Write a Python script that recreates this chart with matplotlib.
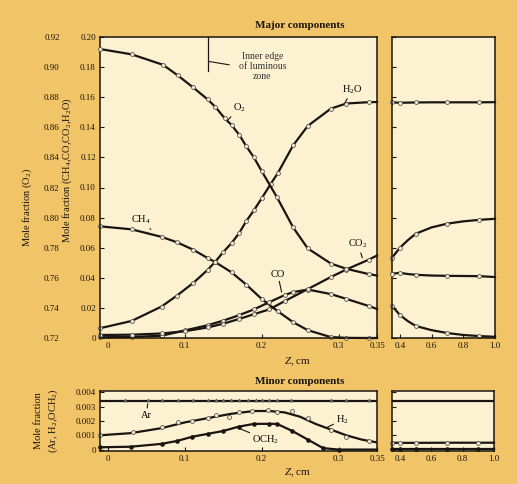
import matplotlib.pyplot as plt

plt.rcParams['font.family'] = ['Liberation Serif', 'DejaVu Serif']
plt.rcParams['mathtext.fontset'] = 'custom'
plt.rcParams['mathtext.rm'] = 'Liberation Serif'
plt.rcParams['mathtext.it'] = 'Liberation Serif:italic'
plt.rcParams['mathtext.bf'] = 'Liberation Serif:bold'

GOLD = '#f1c467'
CREAM = '#fcf2d2'
INK = '#1a1510'

# ---- major components, 0 < z < 0.35 cm
z_o2 = [-0.01, 0.031, 0.072, 0.091, 0.111, 0.130, 0.140, 0.152, 0.161, 0.171, 0.180,
        0.190, 0.200, 0.220, 0.241, 0.260, 0.290, 0.310, 0.339, 0.35]
o2 = [0.912, 0.9085, 0.9015, 0.8945, 0.8865, 0.8785, 0.8735, 0.866, 0.8615, 0.855, 0.8475,
      0.840, 0.831, 0.8135, 0.7935, 0.7795, 0.7695, 0.766, 0.7625, 0.7615]

z_h2o = [-0.01, 0.031, 0.070, 0.090, 0.111, 0.130, 0.140, 0.150, 0.161, 0.171, 0.180,
         0.190, 0.200, 0.212, 0.221, 0.241, 0.260, 0.290, 0.310, 0.339, 0.35]
h2o = [0.0065, 0.0113, 0.0209, 0.0282, 0.0365, 0.0453, 0.0508, 0.057, 0.0631, 0.0698, 0.0776,
       0.0848, 0.0927, 0.1025, 0.1095, 0.128, 0.1409, 0.1524, 0.1558, 0.1567, 0.1568]

z_ch4 = [-0.01, 0.031, 0.070, 0.090, 0.111, 0.130, 0.140, 0.161, 0.180, 0.200, 0.221,
         0.241, 0.260, 0.290, 0.310, 0.339, 0.35]
ch4 = [0.0742, 0.0722, 0.0672, 0.0636, 0.0587, 0.0531, 0.0504, 0.0436, 0.0355, 0.026, 0.0178,
       0.0105, 0.0052, 0.0006, 0.0001, 0.0, 0.0]

z_co = [-0.01, 0.031, 0.070, 0.10, 0.13, 0.15, 0.17, 0.19, 0.21, 0.23, 0.241, 0.26,
        0.29, 0.31, 0.339, 0.35]
co = [0.0005, 0.0007, 0.0015, 0.005, 0.0085, 0.0115, 0.015, 0.019, 0.0238, 0.0285, 0.0305,
      0.0322, 0.0292, 0.026, 0.0213, 0.0193]

z_co2 = [-0.01, 0.031, 0.070, 0.10, 0.13, 0.15, 0.17, 0.19, 0.21, 0.23, 0.26, 0.29,
         0.31, 0.339, 0.35]
co2 = [0.002, 0.0022, 0.003, 0.0045, 0.007, 0.0095, 0.0125, 0.0158, 0.019, 0.0245, 0.0325,
       0.0405, 0.0455, 0.052, 0.0548]

# ---- major components, 0.35 < z < 1.0 cm
z_r = [0.35, 0.4, 0.45, 0.5, 0.6, 0.7, 0.8, 0.9, 1.0]
mark_r = [0, 1, 3, 5, 7]
h2o_r = [0.1566, 0.1563, 0.1564, 0.1565, 0.1566, 0.1566, 0.1566, 0.1566, 0.1567]
co2_r = [0.0533, 0.060, 0.065, 0.0693, 0.0735, 0.076, 0.0775, 0.0785, 0.0792]
o2_r = [0.7627, 0.7633, 0.7625, 0.762, 0.7615, 0.7613, 0.7612, 0.7611, 0.7605]
co_r = [0.0213, 0.0153, 0.0112, 0.008, 0.0052, 0.0033, 0.002, 0.0013, 0.0008]

# ---- minor components
z_ar = [-0.01, 0.35]
ar = [0.0034, 0.0034]
z_ar_pts = [0.023, 0.052, 0.071, 0.091, 0.111, 0.13, 0.141, 0.15, 0.16, 0.171, 0.182,
            0.193, 0.2, 0.209, 0.22, 0.238, 0.29, 0.31, 0.339]
ar_pts = [0.0035] * len(z_ar_pts)

z_h2 = [-0.01, 0.03, 0.07, 0.1, 0.13, 0.16, 0.19, 0.21, 0.23, 0.25, 0.27, 0.29, 0.31, 0.33, 0.35]
h2 = [0.0010, 0.00115, 0.0015, 0.0019, 0.0022, 0.0025, 0.0027, 0.0027, 0.0026, 0.0023,
      0.0018, 0.0014, 0.0010, 0.0007, 0.0005]
z_h2_pts = [-0.01, 0.033, 0.071, 0.091, 0.11, 0.13, 0.141, 0.158, 0.171, 0.188, 0.208,
            0.22, 0.24, 0.26, 0.29, 0.31, 0.339]
h2_pts = [0.0010, 0.0012, 0.0016, 0.0019, 0.0020, 0.0022, 0.0024, 0.0023, 0.0026, 0.0027,
          0.0028, 0.0026, 0.0027, 0.0022, 0.0014, 0.0009, 0.0006]

z_och2 = [-0.01, 0.03, 0.07, 0.09, 0.11, 0.13, 0.15, 0.17, 0.19, 0.21, 0.22, 0.24, 0.26,
          0.28, 0.30, 0.35]
och2 = [0.00016, 0.0002, 0.0004, 0.0006, 0.0009, 0.0011, 0.0013, 0.0016, 0.0018, 0.0018,
        0.0018, 0.0013, 0.0007, 0.0001, 0.0, 0.0]

z_mr = [0.35, 0.4, 0.5, 0.7, 0.9, 1.0]
ar_r = [0.0034] * 6
h2_r = [0.00048, 0.00047, 0.00047, 0.00048, 0.00048, 0.00048]
och2_r = [0.00002] * 6

ticks_left = [0, 0.1, 0.2, 0.3, 0.35]
tick_labels_left = ['0', '0.1', '0.2', '0.3', '0.35']
ticks_right = [0.4, 0.6, 0.8, 1.0]
tick_labels_right = ['0.4', '0.6', '0.8', '1.0']
major_y = [0, 0.02, 0.04, 0.06, 0.08, 0.10, 0.12, 0.14, 0.16, 0.18, 0.20]
major_y_labels = ['0', '0.02', '0.04', '0.06', '0.08', '0.10', '0.12', '0.14', '0.16', '0.18', '0.20']
o2_y = [0.72, 0.74, 0.76, 0.78, 0.80, 0.82, 0.84, 0.86, 0.88, 0.90, 0.92]
minor_y = [0, 0.001, 0.002, 0.003, 0.004]
minor_y_labels = ['0', '0.001', '0.002', '0.003', '0.004']

W, H = 517, 484
fig = plt.figure(figsize=(W / 100, H / 100), dpi=100, facecolor=GOLD)


def box(x0, y0, x1, y1):
    return fig.add_axes([x0 / W, 1 - y1 / H, (x1 - x0) / W, (y1 - y0) / H])


def style(ax):
    ax.set_facecolor(CREAM)
    for s in ax.spines.values():
        s.set_linewidth(1.1)
        s.set_color(INK)
    ax.tick_params(direction='in', length=3, width=0.8, labelsize=6.5, pad=3, colors=INK)


line_kw = dict(color=INK, lw=1.6, marker='o', ms=2.8, mfc=CREAM, mec='#555', mew=0.6, clip_on=False)

ax = box(100, 37, 377, 338)
ax_r = box(392, 37, 495, 338)
axm = box(100, 391, 377, 451)
axm_r = box(392, 391, 494, 451)
for a in (ax, ax_r, axm, axm_r):
    style(a)

# major left
ax.set_xlim(-0.01, 0.35)
ax.set_ylim(0, 0.2)
ax.set_xticks(ticks_left, tick_labels_left)
ax.set_yticks(major_y, major_y_labels)
ax.plot(z_h2o, h2o, markevery=slice(0, -1), **line_kw)
ax.plot(z_ch4, ch4, markevery=slice(0, -1), **line_kw)
ax.plot(z_co, co, markevery=slice(0, -1), **line_kw)
ax.plot(z_co2, co2, markevery=slice(0, -1), **line_kw)

ax_o2 = ax.twinx()
ax_o2.set_ylim(0.72, 0.92)
ax_o2.yaxis.set_ticks_position('left')
ax_o2.yaxis.set_label_position('left')
ax_o2.spines['left'].set_position(('outward', 26))
for s in ax_o2.spines.values():
    s.set_visible(False)
ax_o2.set_yticks(o2_y, [f'{v:.2f}' for v in o2_y])
ax_o2.tick_params(length=0, labelsize=6.5, pad=3, colors=INK)
ax_o2.plot(z_o2, o2, markevery=slice(0, -1), **line_kw)

# annotations (major)
arr = dict(arrowstyle='-', lw=0.8, color=INK, shrinkA=0, shrinkB=0)
ax.plot([0.131, 0.131], [0.2, 0.1775], color=INK, lw=0.9)
ax.annotate('', xy=(0.131, 0.1838), xytext=(0.158, 0.1815), arrowprops=arr)
ax.text(0.201, 0.1805, 'Inner edge\nof luminous\nzone', ha='center', va='center',
        fontsize=7, linespacing=1.15, color='#333')
ax.annotate(r'O$_2$', xy=(0.156, 0.1447), xytext=(0.171, 0.153), fontsize=7.5,
            ha='center', va='center', arrowprops=arr)
ax.annotate(r'H$_2$O', xy=(0.308, 0.156), xytext=(0.318, 0.165), fontsize=7.5,
            ha='center', va='center', arrowprops=arr)
ax.annotate(r'CH$_4$', xy=(0.056, 0.0722), xytext=(0.043, 0.0787), fontsize=7.5,
            ha='center', va='center', arrowprops=arr)
ax.annotate(r'CO$_2$', xy=(0.331, 0.0533), xytext=(0.325, 0.0625), fontsize=7.5,
            ha='center', va='center', arrowprops=arr)
ax.annotate('CO', xy=(0.226, 0.0305), xytext=(0.221, 0.0425), fontsize=7.5,
            ha='center', va='center', arrowprops=arr)

# major right
ax_r.set_xlim(0.35, 1.0)
ax_r.set_ylim(0, 0.2)
ax_r.set_xticks(ticks_right, tick_labels_right)
ax_r.set_yticks(major_y)
ax_r.tick_params(labelleft=False)
ax_r.plot(z_r, h2o_r, markevery=mark_r, **line_kw)
ax_r.plot(z_r, co2_r, markevery=mark_r, **line_kw)
ax_r.plot(z_r, co_r, markevery=mark_r, **line_kw)
ax_r2 = ax_r.twinx()
ax_r2.set_ylim(0.72, 0.92)
ax_r2.axis('off')
ax_r2.plot(z_r, o2_r, markevery=mark_r, **line_kw)

# minor left
axm.set_xlim(-0.01, 0.35)
axm.set_ylim(-0.0001, 0.0041)
axm.set_xticks(ticks_left, tick_labels_left)
axm.set_yticks(minor_y, minor_y_labels)
axm.plot(z_ar, ar, color=INK, lw=1.6)
axm.plot(z_ar_pts, ar_pts, ls='none', marker='^', ms=2.2, mfc='#777', mec='#555', mew=0.5)
axm.plot(z_h2, h2, color=INK, lw=1.6)
axm.plot(z_h2_pts, h2_pts, ls='none', marker='o', ms=2.8, mfc=CREAM, mec='#555', mew=0.6,
         clip_on=False)
axm.plot(z_och2, och2, color=INK, lw=1.6, marker='o', ms=2.3, mfc=INK, mec=INK,
         markevery=slice(0, -1), clip_on=False)
axm.annotate('Ar', xy=(0.052, 0.0032), xytext=(0.05, 0.0024), fontsize=7.5,
             ha='center', va='center', arrowprops=dict(arr, shrinkA=5))
axm.annotate(r'H$_2$', xy=(0.285, 0.00155), xytext=(0.297, 0.0021), fontsize=7.5,
             ha='left', va='center', arrowprops=arr)
axm.annotate(r'OCH$_2$', xy=(0.168, 0.00155), xytext=(0.188, 0.0007), fontsize=7.5,
             ha='left', va='center', arrowprops=arr)

# minor right
axm_r.set_xlim(0.35, 1.0)
axm_r.set_ylim(-0.0001, 0.0041)
axm_r.set_xticks(ticks_right, tick_labels_right)
axm_r.set_yticks(minor_y)
axm_r.tick_params(labelleft=False)
axm_r.plot(z_mr, ar_r, color=INK, lw=1.6)
axm_r.plot(z_mr, h2_r, markevery=slice(0, -1), **line_kw)
axm_r.plot(z_mr, och2_r, color=INK, lw=1.6, marker='o', ms=2.3, mfc=INK, mec=INK,
           markevery=slice(0, -1), clip_on=False)

# titles and axis labels
fig.text(300 / W, 1 - 26 / H, 'Major components', ha='center', va='center',
         fontsize=8, fontweight='bold', color=INK)
fig.text(300 / W, 1 - 381 / H, 'Minor components', ha='center', va='center',
         fontsize=8, fontweight='bold', color=INK)
fig.text(298 / W, 1 - 362 / H, r'$Z$, cm', ha='center', va='center', fontsize=8, color=INK)
fig.text(298 / W, 1 - 473 / H, r'$Z$, cm', ha='center', va='center', fontsize=8, color=INK)
fig.text(27 / W, 1 - 207 / H, r'Mole fraction (O$_2$)', rotation=90, ha='center',
         va='center', fontsize=7.5, color=INK)
fig.text(67 / W, 1 - 170 / H, r'Mole fraction (CH$_4$,CO,CO$_2$,H$_2$O)', rotation=90,
         ha='center', va='center', fontsize=7.5, color=INK)
fig.text(47 / W, 1 - 421 / H, 'Mole fraction\n' + r'(Ar, H$_2$,OCH$_2$)', rotation=90,
         ha='center', va='center', fontsize=7.5, linespacing=1.3, color=INK)

fig.savefig('out.png', dpi=100, facecolor=GOLD)
